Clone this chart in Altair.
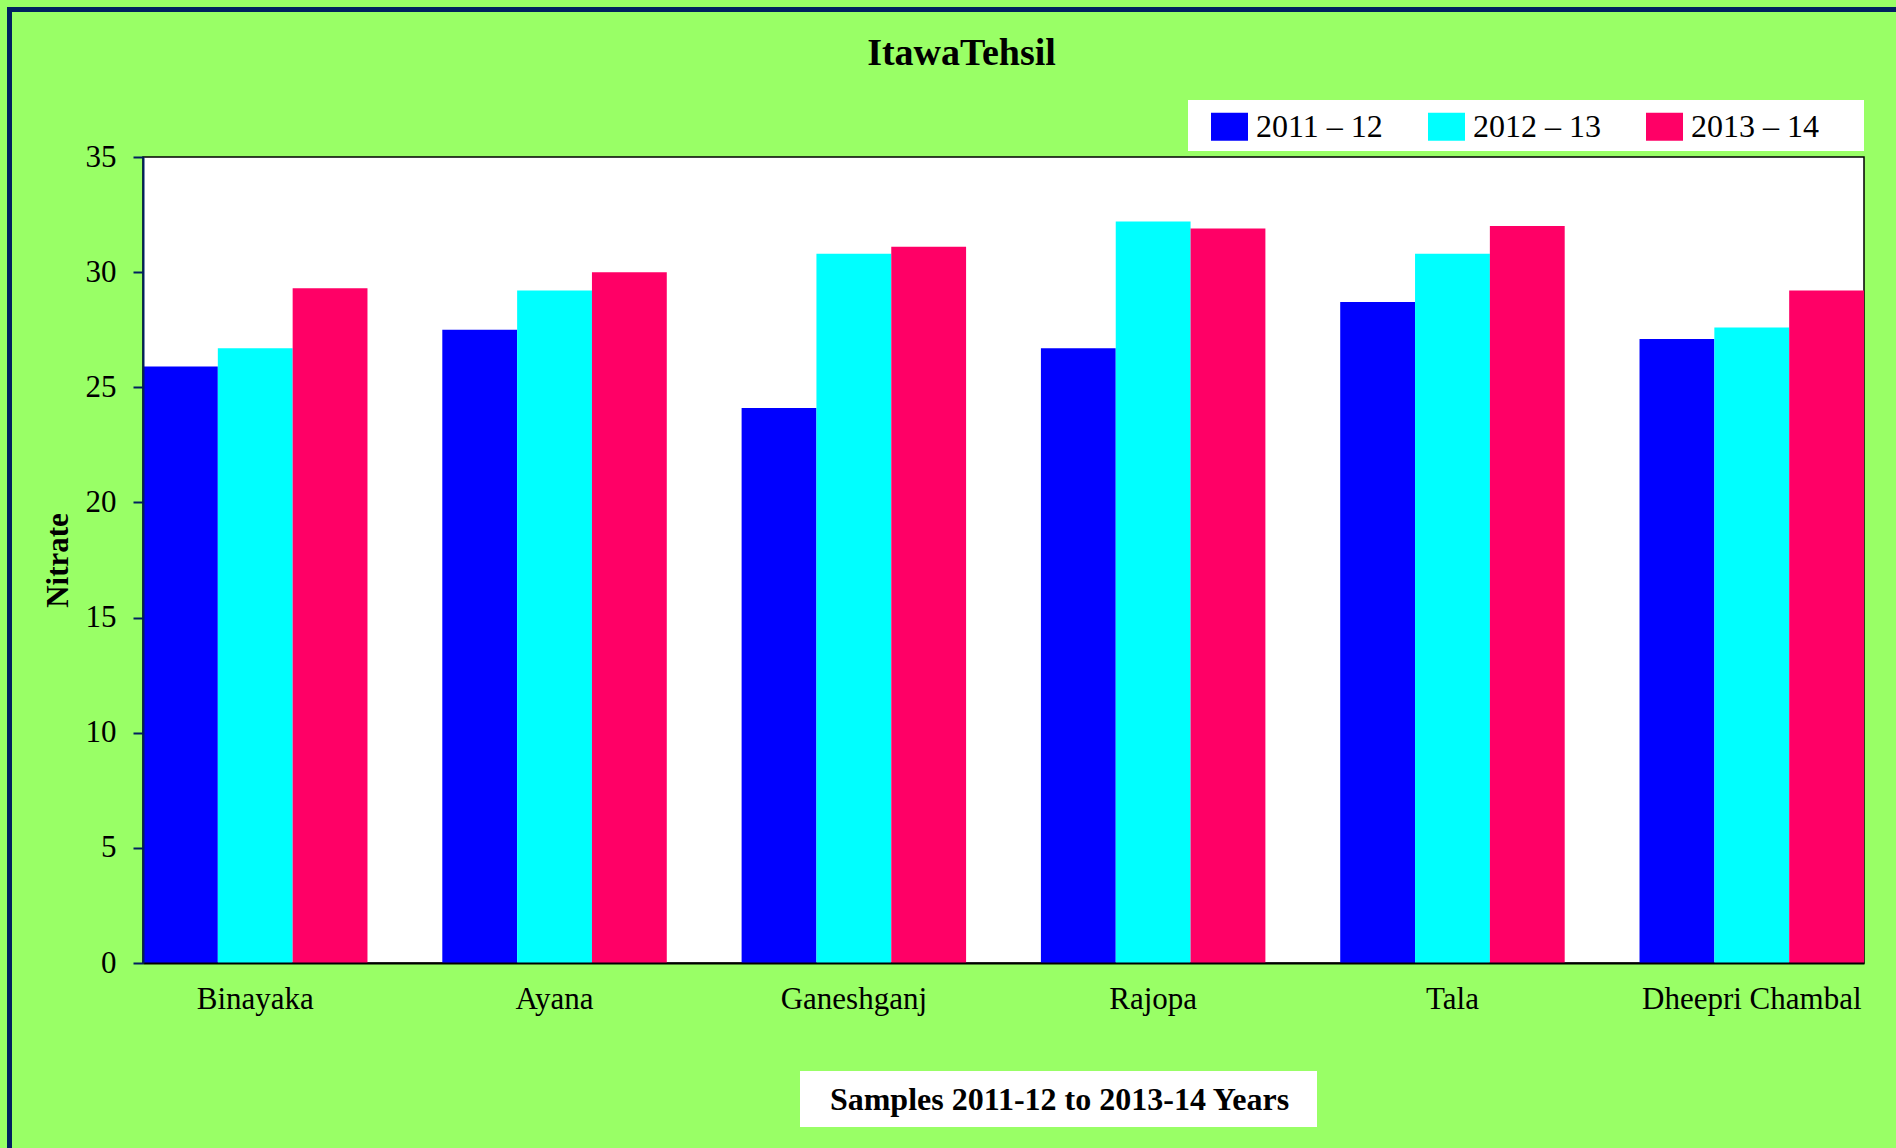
import altair as alt
import pandas as pd

# Nitrate readings per sampling site, one list per year
locations = ["Binayaka", "Ayana", "Ganeshganj", "Rajopa", "Tala", "Dheepri Chambal"]
years = ["2011 \u2013 12", "2012 \u2013 13", "2013 \u2013 14"]
nitrate_2011_12 = [25.9, 27.5, 24.1, 26.7, 28.7, 27.1]
nitrate_2012_13 = [26.7, 29.2, 30.8, 32.2, 30.8, 27.6]
nitrate_2013_14 = [29.3, 30.0, 31.1, 31.9, 32.0, 29.2]
y_ticks = [0, 5, 10, 15, 20, 25, 30, 35]

bar_colors = ["#0000FF", "#00FFFF", "#FF0066"]

rows = []
for year, values in zip(years, [nitrate_2011_12, nitrate_2012_13, nitrate_2013_14]):
    for loc, v in zip(locations, values):
        rows.append({"Location": loc, "Year": year, "Nitrate": v})
df = pd.DataFrame(rows)

FONT = "Liberation Serif"
W, H = 1721, 806
NAVY = "#00205F"

x_enc = alt.X(
    "Location:N",
    sort=locations,
    scale=alt.Scale(paddingInner=0.25, paddingOuter=0),
    axis=alt.Axis(
        title="Samples 2011-12 to 2013-14 Years",
        labelAngle=0, ticks=False, tickSize=0, labelPadding=45,
        labelBaseline="alphabetic", labelFont=FONT, labelFontSize=31,
        labelColor="black", labelLimit=500, domainColor="black", domainWidth=2,
        titleFont=FONT, titleFontSize=32, titleFontWeight="bold",
        titleColor="black", titleX=916, titleY=136,
        titleBaseline="middle", titleAlign="center", zindex=1,
    ),
)
x_off = alt.XOffset("Year:N", sort=years, scale=alt.Scale(paddingInner=0, paddingOuter=0))

y_enc = alt.Y(
    "Nitrate:Q",
    scale=alt.Scale(domain=[0, 35], nice=False, zero=True),
    axis=alt.Axis(
        title="Nitrate", values=y_ticks, grid=False,
        tickSize=10, tickWidth=2, tickColor=NAVY,
        domainColor=NAVY, domainWidth=2,
        labelPadding=17, labelFont=FONT, labelFontSize=31, labelColor="black",
        titleFont=FONT, titleFontSize=31, titleFontWeight="bold", titleColor="black",
        titleX=-85, titleY=H / 2, titleAngle=270,
        titleBaseline="middle", titleAlign="center", zindex=1,
    ),
)

# Outer frame (right and bottom edges run off the canvas)
frame = alt.Chart(alt.Data(values=[{}])).mark_rect(
    fillOpacity=0, stroke=NAVY, strokeWidth=5
).encode(
    x=alt.value(-133.5), x2=alt.value(1800),
    y=alt.value(-147.5), y2=alt.value(1050),
)

# White panels behind the legend and the x-axis title
legend_box = alt.Chart(alt.Data(values=[{}])).mark_rect(fill="white").encode(
    x=alt.value(1045), x2=alt.value(1721), y=alt.value(-57), y2=alt.value(-6)
)
xtitle_box = alt.Chart(alt.Data(values=[{}])).mark_rect(fill="white").encode(
    x=alt.value(657), x2=alt.value(1174), y=alt.value(914), y2=alt.value(970)
)

bars = alt.Chart(df).mark_bar().encode(
    x=x_enc,
    xOffset=x_off,
    y=y_enc,
    fill=alt.Fill(
        "Year:N", sort=years,
        scale=alt.Scale(domain=years, range=bar_colors),
        legend=alt.Legend(
            title=None, orient="none", legendX=1060, legendY=-57,
            direction="horizontal", columnPadding=45, labelOffset=8,
            symbolType="M-1,-0.757H1V0.757H-1Z", symbolSize=1369,
            symbolStrokeWidth=0, symbolOpacity=1,
            labelFont=FONT, labelFontSize=32, labelColor="black",
            labelLimit=400, padding=8, fillColor="white", zindex=2,
        ),
    ),
)

chart = alt.layer(frame, legend_box, xtitle_box, bars).properties(
    width=W,
    height=H,
    padding={"left": 143, "top": 157, "right": 32, "bottom": 185},
    autosize=alt.AutoSizeParams(type="none"),
    title=alt.TitleParams(
        "ItawaTehsil", font=FONT, fontSize=38, fontWeight="bold", color="black",
        anchor="middle", frame="group", dx=-42, baseline="alphabetic", offset=-95.7,
    ),
).configure(
    background="#99FF66",
).configure_view(
    fill="white", stroke="black", strokeWidth=1.5,
)

chart.save("out.html", embed_options={"renderer": "svg", "actions": False})
